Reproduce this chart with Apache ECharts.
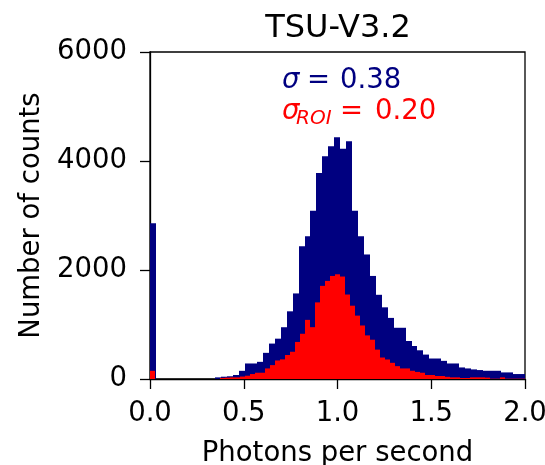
<!DOCTYPE html>
<html>
<head>
<meta charset="utf-8">
<script src="https://cdn.jsdelivr.net/npm/echarts@6/dist/echarts.min.js"></script>
<style>html,body{margin:0;padding:0;background:#fff}#c{width:545px;height:465px}</style>
</head>
<body>
<div id="c"></div>
<script>
// Histogram of all pixels (navy), bins of equal width starting at 0
var blueBinWidth = 0.0317;
var blueCounts = [
  2860, 0, 0, 0, 0, 0, 0, 0, 0, 0,
  0, 30, 42, 50, 73, 150, 285, 285, 315, 480,
  650, 740, 950, 1242, 1570, 2436, 2618, 3085, 3781, 4085,
  4272, 4436, 4224, 4363, 3085, 2618, 2285, 1891, 1545, 1315,
  1121, 940, 940, 697, 606, 527, 448, 376, 376, 333,
  285, 285, 212, 194, 176, 164, 151, 151, 151, 121,
  121, 91, 91, 91
];
// Histogram of ROI pixels (red)
var redBinWidth = 0.026667;
var redCounts = [
  150, 0, 0, 0, 0, 0, 0, 0, 0, 0,
  0, 0, 0, 0, 20, 25, 30, 30, 45, 60,
  91, 115, 115, 194, 255, 340, 360, 440, 500, 680,
  830, 1085, 951, 1406, 1709, 1800, 1891, 1921, 1880, 1550,
  1345, 1163, 982, 800, 721, 539, 394, 358, 297, 236,
  194, 194, 151, 130, 115, 73, 73, 55, 55, 40,
  30, 30, 18, 18, 30, 30, 30, 25, 6, 6,
  30, 6, 6, 6, 6
];
var xTicks = [0, 0.5, 1.0, 1.5, 2.0];
var yTicks = [0, 2000, 4000, 6000];
var titleText = 'TSU-V3.2';
var sigmaAll = '0.38';
var sigmaRoi = '0.20';

function toBins(counts, w) {
  var out = [];
  for (var i = 0; i < counts.length; i++) {
    if (counts[i] > 0) out.push([i * w, (i + 1) * w, counts[i]]);
  }
  return out;
}
function makeRender(color) {
  return function (params, api) {
    var p0 = api.coord([api.value(0), api.value(2)]);
    var p1 = api.coord([api.value(1), 0]);
    var xl = Math.round(p0[0]), xr = Math.round(p1[0]);
    return {
      type: 'rect',
      shape: { x: xl, y: p0[1], width: xr - xl, height: p1[1] - p0[1] },
      style: { fill: color }
    };
  };
}
var FONT = 'DejaVu Sans';
var FS = 27.5;
var NAVY = '#000080', RED = '#ff0000';
function txt(x, y, s, size, color, italic) {
  return { type: 'text', x: x, y: y, z: 10,
    style: { text: s, fontFamily: FONT, fontSize: size, fontStyle: italic ? 'italic' : 'normal',
      fill: color, textAlign: 'left', textVerticalAlign: 'middle' } };
}
var chart = echarts.init(document.getElementById('c'), null, { renderer: 'canvas' });
chart.setOption({
  animation: false,
  backgroundColor: '#fff',
  grid: { left: 150, right: 20, top: 52, bottom: 86, outerBoundsMode: 'none', containLabel: false,
    show: true, borderColor: '#000', borderWidth: 1.3, backgroundColor: 'transparent' },
  xAxis: {
    type: 'value', min: xTicks[0], max: xTicks[xTicks.length - 1], interval: 0.5,
    name: 'Photons per second', nameLocation: 'middle', nameGap: 61,
    nameTextStyle: { fontFamily: FONT, fontSize: FS, color: '#000' },
    axisLine: { show: true, onZero: false, lineStyle: { color: '#000', width: 1.3 } },
    axisTick: { show: true, length: 10, lineStyle: { color: '#000', width: 1.3 } },
    axisLabel: { fontFamily: FONT, fontSize: FS, color: '#000', margin: 21, formatter: function (v) { return v.toFixed(1); } },
    splitLine: { show: false }
  },
  yAxis: {
    type: 'value', min: yTicks[0], max: yTicks[yTicks.length - 1], interval: 2000,
    name: 'Number of counts', nameLocation: 'middle', nameGap: 104, nameRotate: 90,
    nameTextStyle: { fontFamily: FONT, fontSize: FS, color: '#000' },
    axisLine: { show: true, lineStyle: { color: '#000', width: 1.3 } },
    axisTick: { show: true, length: 10, lineStyle: { color: '#000', width: 1.3 } },
    axisLabel: { fontFamily: FONT, fontSize: FS, color: '#000', margin: 23, formatter: function (v) { return String(v); } },
    splitLine: { show: false }
  },
  series: [
    { type: 'custom', name: 'all', clip: true, renderItem: makeRender(NAVY),
      encode: { x: [0, 1], y: 2 }, data: toBins(blueCounts, blueBinWidth), z: 2 },
    { type: 'custom', name: 'roi', clip: true, renderItem: makeRender(RED),
      encode: { x: [0, 1], y: 2 }, data: toBins(redCounts, redBinWidth), z: 3 }
  ],
  graphic: [
    { type: 'text', x: 338, y: 29, z: 10,
      style: { text: titleText, fontFamily: FONT, fontSize: 32, fill: '#000', textAlign: 'center', textVerticalAlign: 'middle' } },
    txt(282, 80.5, 'σ', FS, NAVY, true),
    txt(307, 80.5, '=', FS, NAVY, false),
    txt(340, 80.5, sigmaAll, FS, NAVY, false),
    txt(282, 112, 'σ', FS, RED, true),
    txt(296, 119, 'ROI', 20, RED, true),
    txt(340, 112, '=', FS, RED, false),
    txt(375, 112, sigmaRoi, FS, RED, false)
  ]
});
</script>
</body>
</html>
